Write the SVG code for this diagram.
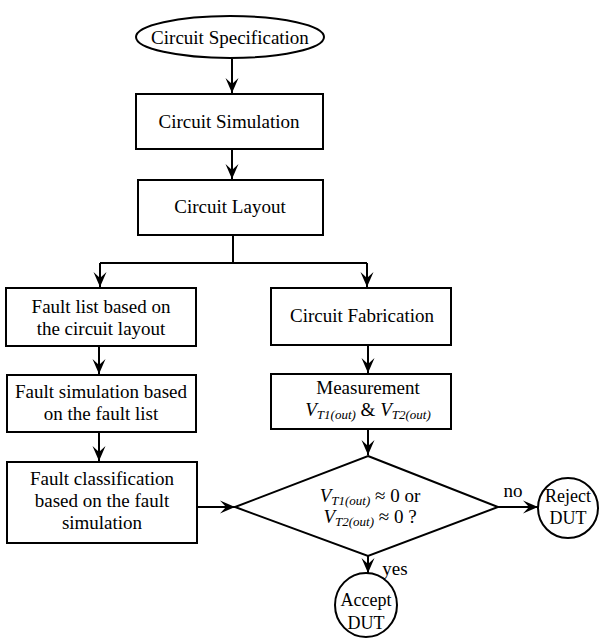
<svg xmlns="http://www.w3.org/2000/svg" width="602" height="639" viewBox="0 0 602 639">
<style>
.n{fill:#fff;stroke:#000;stroke-width:2}
.t{font-family:"Liberation Serif","Times New Roman",serif;font-size:19px;fill:#000;text-anchor:middle}
.s{font-size:18px}
.i{font-style:italic}
.sub{font-style:italic;font-size:13px}
.c{fill:none;stroke:#000;stroke-width:2}
</style>
<defs>
<marker id="a" markerWidth="16" markerHeight="14" refX="15" refY="7" orient="auto" markerUnits="userSpaceOnUse" viewBox="0 0 16 14">
<path d="M15,7 L0,0.5 L6,7 L0,13.5 Z" fill="#000"/>
</marker>
</defs>
<rect width="602" height="639" fill="#fff"/>
<g id="spec">
<ellipse class="n" cx="230" cy="37" rx="94" ry="21"/>
<text class="t" x="230" y="44">Circuit Specification</text>
</g>
<g id="sim">
<rect class="n" x="136" y="94" width="187" height="55"/>
<text class="t" x="229" y="128">Circuit Simulation</text>
</g>
<g id="layout">
<rect class="n" x="138" y="180" width="185" height="55"/>
<text class="t" x="230" y="213">Circuit Layout</text>
</g>
<g id="faultlist">
<rect class="n" x="6" y="288" width="190" height="58"/>
<text class="t" x="101" y="313">Fault list based on</text>
<text class="t" x="101" y="335">the circuit layout</text>
</g>
<g id="faultsim">
<rect class="n" x="7" y="375" width="189" height="57"/>
<text class="t" x="101" y="398">Fault simulation based</text>
<text class="t" x="101" y="420">on the fault list</text>
</g>
<g id="faultclass">
<rect class="n" x="7" y="462" width="190" height="81"/>
<text class="t" x="102" y="485">Fault classification</text>
<text class="t" x="102" y="507">based on the fault</text>
<text class="t" x="102" y="529">simulation</text>
</g>
<g id="fab">
<rect class="n" x="271" y="288" width="180" height="57"/>
<text class="t" x="362" y="322">Circuit Fabrication</text>
</g>
<g id="meas">
<rect class="n" x="271" y="374" width="180" height="55"/>
<text class="t" x="368" y="394">Measurement</text>
<text class="t" x="368" y="416"><tspan class="i">V</tspan><tspan class="sub" dy="3">T1(out)</tspan><tspan dy="-3"> &amp; </tspan><tspan class="i">V</tspan><tspan class="sub" dy="3">T2(out)</tspan></text>
</g>
<g id="decision">
<path class="n" d="M368,456 L498,507 L368,556 L235,507 Z"/>
<text class="t" x="370" y="502"><tspan class="i">V</tspan><tspan class="sub" dy="3">T1(out)</tspan><tspan dy="-3"> ≈ 0 or</tspan></text>
<text class="t" x="370" y="523"><tspan class="i">V</tspan><tspan class="sub" dy="3">T2(out)</tspan><tspan dy="-3"> ≈ 0 ?</tspan></text>
</g>
<g id="reject">
<ellipse class="n" cx="568" cy="508" rx="30" ry="30"/>
<text class="t s" x="568" y="502">Reject</text>
<text class="t s" x="568" y="524">DUT</text>
</g>
<g id="accept">
<ellipse class="n" cx="366" cy="605" rx="31" ry="32"/>
<text class="t s" x="366" y="606">Accept</text>
<text class="t s" x="366" y="629">DUT</text>
</g>
<g id="connectors">
<path class="c" d="M232,59 V93" marker-end="url(#a)"/>
<path class="c" d="M232,149 V179" marker-end="url(#a)"/>
<path class="c" d="M233,235 V263 M100,263 H367"/>
<path class="c" d="M100,263 V287" marker-end="url(#a)"/>
<path class="c" d="M367,263 V287" marker-end="url(#a)"/>
<path class="c" d="M99,346 V374" marker-end="url(#a)"/>
<path class="c" d="M99,432 V461" marker-end="url(#a)"/>
<path class="c" d="M197,507 H235" marker-end="url(#a)"/>
<path class="c" d="M368,345 V373" marker-end="url(#a)"/>
<path class="c" d="M368,429 V455" marker-end="url(#a)"/>
<path class="c" d="M498,507 H538" marker-end="url(#a)"/>
<path class="c" d="M368,556 V573" marker-end="url(#a)"/>
<text class="t" x="513" y="497">no</text>
<text class="t" x="395" y="575">yes</text>
</g>
</svg>
